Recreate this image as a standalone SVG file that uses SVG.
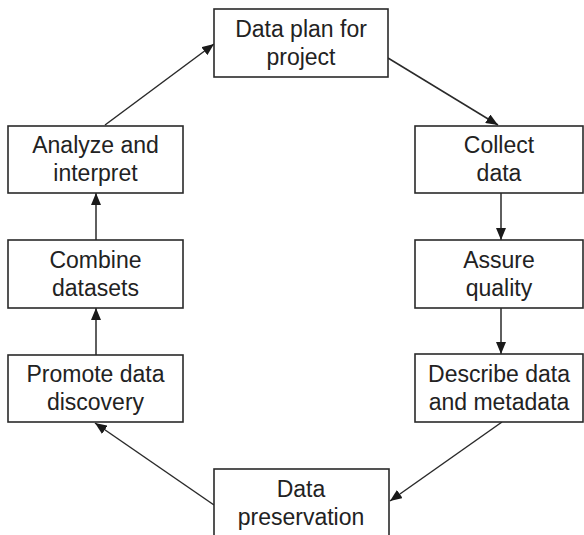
<svg xmlns="http://www.w3.org/2000/svg" width="584" height="535" viewBox="0 0 584 535">
  <style>
    .box { fill: #ffffff; stroke: #2a2a2a; stroke-width: 1.6; }
    .label { font-family: "Liberation Sans", Arial, Helvetica, sans-serif; font-size: 23px; fill: #222222; text-anchor: middle; }
    .edge { fill: none; stroke: #2a2a2a; stroke-width: 1.5; marker-end: url(#arrow); }
  </style>
  <defs>
    <marker id="arrow" viewBox="0 0 12 10" refX="12" refY="5" markerWidth="12" markerHeight="10" markerUnits="userSpaceOnUse" orient="auto">
      <path d="M0,0 L12,5 L0,10 Z" fill="#1a1a1a"/>
    </marker>
  </defs>
  <rect width="584" height="535" fill="#ffffff"/>

  <g id="connectors">
    <line class="edge" x1="105" y1="125" x2="214" y2="44"/>
    <line class="edge" x1="388" y1="58" x2="498" y2="125"/>
    <line class="edge" x1="501" y1="193" x2="501" y2="240"/>
    <line class="edge" x1="501" y1="308" x2="501" y2="354"/>
    <line class="edge" x1="502" y1="422" x2="390" y2="501"/>
    <line class="edge" x1="214" y1="505" x2="95" y2="423"/>
    <line class="edge" x1="96" y1="355" x2="96" y2="308"/>
    <line class="edge" x1="96" y1="240" x2="96" y2="193"/>
  </g>

  <g id="plan">
    <rect class="box" x="214" y="9" width="174" height="68"/>
    <text class="label" x="301" y="37">Data plan for</text>
    <text class="label" x="301" y="65">project</text>
  </g>

  <g id="collect">
    <rect class="box" x="415" y="126" width="168" height="67"/>
    <text class="label" x="499" y="153">Collect</text>
    <text class="label" x="499" y="181">data</text>
  </g>

  <g id="assure">
    <rect class="box" x="415" y="240" width="168" height="68"/>
    <text class="label" x="499" y="268">Assure</text>
    <text class="label" x="499" y="296">quality</text>
  </g>

  <g id="describe">
    <rect class="box" x="415" y="354" width="168" height="68"/>
    <text class="label" x="499" y="382">Describe data</text>
    <text class="label" x="499" y="410">and metadata</text>
  </g>

  <g id="preserve">
    <rect class="box" x="214" y="469" width="175" height="80"/>
    <text class="label" x="301" y="497">Data</text>
    <text class="label" x="301" y="525">preservation</text>
  </g>

  <g id="discover">
    <rect class="box" x="8" y="355" width="175" height="67"/>
    <text class="label" x="95.5" y="382">Promote data</text>
    <text class="label" x="95.5" y="410">discovery</text>
  </g>

  <g id="combine">
    <rect class="box" x="8" y="240" width="175" height="68"/>
    <text class="label" x="95.5" y="268">Combine</text>
    <text class="label" x="95.5" y="296">datasets</text>
  </g>

  <g id="analyze">
    <rect class="box" x="8" y="126" width="175" height="67"/>
    <text class="label" x="95.5" y="153">Analyze and</text>
    <text class="label" x="95.5" y="181">interpret</text>
  </g>
</svg>
